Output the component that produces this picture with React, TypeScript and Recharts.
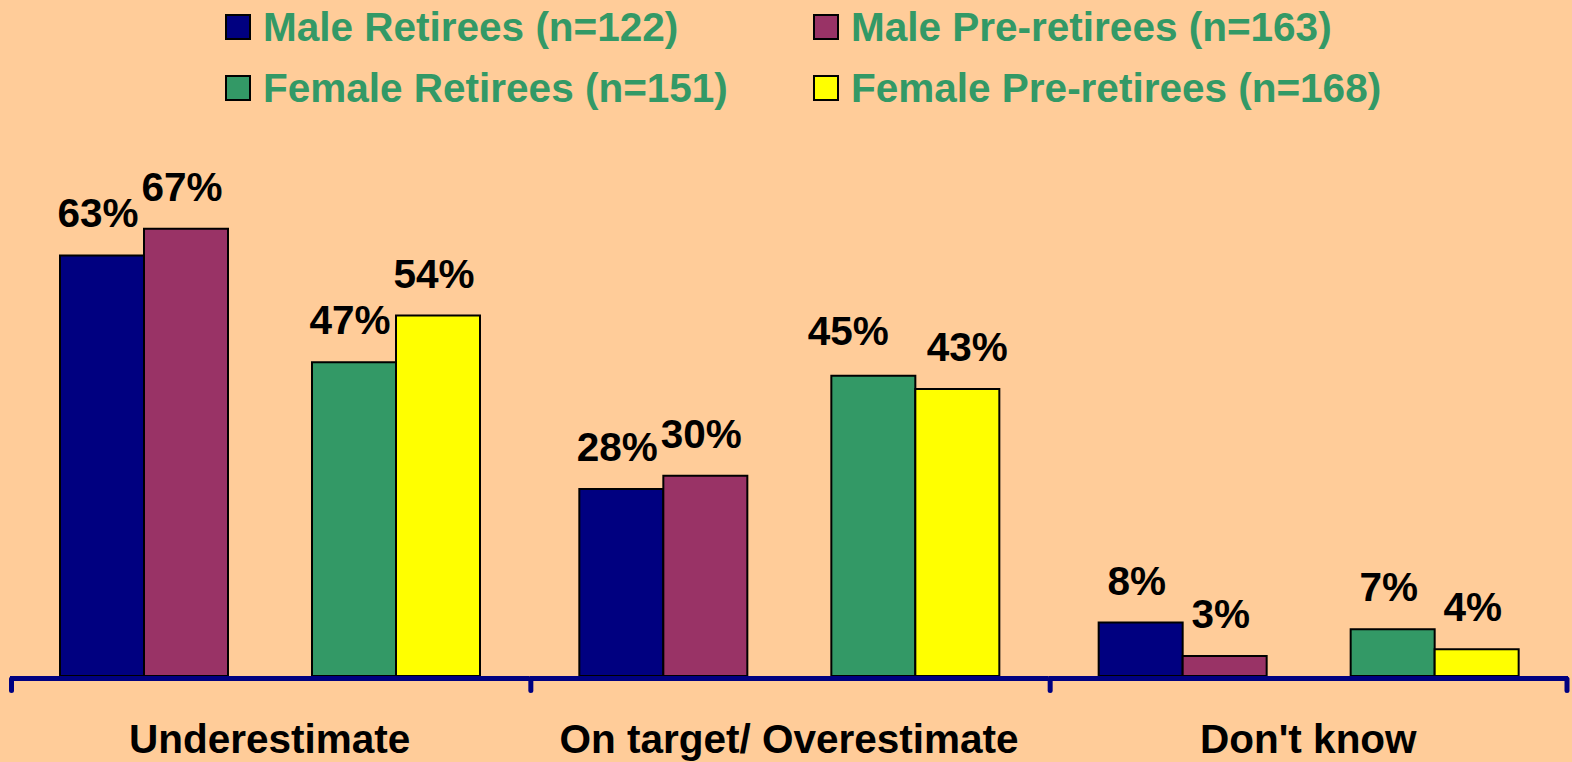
import { BarChart, Bar, XAxis, YAxis, Legend } from 'recharts';

const CATEGORIES = ['Underestimate', 'On target/ Overestimate', "Don't know"];
const MALE_RETIREES = [63, 28, 8];
const MALE_PRE_RETIREES = [67, 30, 3];
const FEMALE_RETIREES = [47, 45, 7];
const FEMALE_PRE_RETIREES = [54, 43, 4];

const SERIES_NAMES = [
  'Male Retirees (n=122)',
  'Male Pre-retirees (n=163)',
  'Female Retirees (n=151)',
  'Female Pre-retirees (n=168)',
];

const WIDTH = 1572;
const HEIGHT = 762;
const MARGIN = { top: 142, right: 4, bottom: 0, left: 10 };
const PLOT_W = WIDTH - MARGIN.left - MARGIN.right;
const FONT = '"Liberation Sans", Arial, sans-serif';
const FONT_SIZE = 40.5;
const AXIS = '#000080';

// a couple of labels sit off-centre in the original
const LABEL_NUDGE: Record<string, { dx: number; dy: number }> = {
  'femRet-1': { dx: -21, dy: -3 },
  'femPre-1': { dx: 14, dy: 0 },
};

// the empty "gap" series keeps the male and female pairs apart
const data = CATEGORIES.map((name, i) => ({
  name,
  maleRet: MALE_RETIREES[i],
  malePre: MALE_PRE_RETIREES[i],
  gap: null,
  femRet: FEMALE_RETIREES[i],
  femPre: FEMALE_PRE_RETIREES[i],
}));

const valueLabel = (key: string) => (props: any) => {
  const { x, y, width, value, index } = props;
  if (value == null) return null;
  const nudge = LABEL_NUDGE[`${key}-${index}`] || { dx: 0, dy: 0 };
  return (
    <text
      x={Number(x) + Number(width) / 2 - 4 + nudge.dx}
      y={Number(y) - 28 + nudge.dy}
      textAnchor="middle"
      fontSize={FONT_SIZE}
      fontWeight="bold"
      fontFamily={FONT}
      fill="#000"
    >
      {value}%
    </text>
  );
};

const renderTick = (props: any) => {
  const { x, y, payload, index } = props;
  const band = PLOT_W / CATEGORIES.length;
  const left = x - band / 2;
  const right = x + band / 2;
  const last = index === CATEGORIES.length - 1;
  return (
    <g>
      <line x1={left} x2={right} y1={y + 2.5} y2={y + 2.5} stroke={AXIS} strokeWidth={5} />
      <line x1={left + 1.5} x2={left + 1.5} y1={y + 3} y2={y + 14.5} stroke={AXIS} strokeWidth={5} strokeLinecap="round" />
      {last && (
        <line x1={right - 1} x2={right - 1} y1={y + 3} y2={y + 14.5} stroke={AXIS} strokeWidth={5} strokeLinecap="round" />
      )}
      <text x={x} y={y + 77} textAnchor="middle" fontSize={FONT_SIZE} fontWeight="bold" fontFamily={FONT} fill="#000">
        {payload.value}
      </text>
    </g>
  );
};

const renderLegend = (props: any) => {
  const items = (props.payload || [])
    .filter((p: any) => SERIES_NAMES.includes(p.value))
    .sort((a: any, b: any) => SERIES_NAMES.indexOf(a.value) - SERIES_NAMES.indexOf(b.value));
  return (
    <div
      style={{
        display: 'grid',
        gridTemplateColumns: '588px auto',
        rowGap: 9,
        paddingTop: 1,
        paddingLeft: 225,
      }}
    >
      {items.map((item: any) => (
        <div key={item.value} style={{ display: 'flex', alignItems: 'center', height: 52 }}>
          <span
            style={{
              width: 26,
              height: 26,
              boxSizing: 'border-box',
              border: '2.5px solid #000',
              background: item.color,
              marginRight: 12,
            }}
          />
          <span
            style={{
              fontFamily: FONT,
              fontSize: FONT_SIZE,
              fontWeight: 'bold',
              color: '#339966',
              lineHeight: '52px',
              whiteSpace: 'nowrap',
            }}
          >
            {item.value}
          </span>
        </div>
      ))}
    </div>
  );
};

export default function App() {
  return (
    <div style={{ position: 'absolute', left: 0, top: 0, width: WIDTH, height: HEIGHT, background: '#FFCC99' }}>
      <BarChart width={WIDTH} height={HEIGHT} data={data} margin={MARGIN} barGap={0} barCategoryGap={50}>
        <XAxis
          dataKey="name"
          height={86}
          interval={0}
          axisLine={false}
          tickLine={false}
          tickSize={0}
          tickMargin={0}
          tick={renderTick}
        />
        <YAxis hide domain={[0, 80]} />
        <Legend
          layout="vertical"
          align="center"
          verticalAlign="middle"
          wrapperStyle={{ top: 0, left: 0, width: WIDTH }}
          content={renderLegend}
        />
        <Bar dataKey="maleRet" name={SERIES_NAMES[0]} fill="#000080" stroke="#000" strokeWidth={2} label={valueLabel('maleRet')} isAnimationActive={false} />
        <Bar dataKey="malePre" name={SERIES_NAMES[1]} fill="#993366" stroke="#000" strokeWidth={2} label={valueLabel('malePre')} isAnimationActive={false} />
        <Bar dataKey="gap" legendType="none" fill="none" isAnimationActive={false} />
        <Bar dataKey="femRet" name={SERIES_NAMES[2]} fill="#339966" stroke="#000" strokeWidth={2} label={valueLabel('femRet')} isAnimationActive={false} />
        <Bar dataKey="femPre" name={SERIES_NAMES[3]} fill="#FFFF00" stroke="#000" strokeWidth={2} label={valueLabel('femPre')} isAnimationActive={false} />
      </BarChart>
    </div>
  );
}
